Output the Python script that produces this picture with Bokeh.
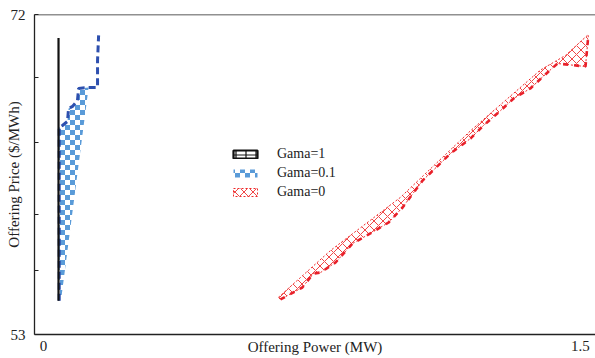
from bokeh.plotting import figure
from bokeh.models import (FixedTicker, Legend, LegendItem, Span,
                          ImageURLTexture, Range1d)
from bokeh.embed import file_html
from bokeh.resources import INLINE

# Offering curves (power in MW, price in $/MWh)
gama1_power = [0.042, 0.042]
gama1_price = [55.0, 70.6]

gama01_power = [0.044, 0.044, 0.053, 0.067, 0.070, 0.081, 0.095, 0.098, 0.126, 0.151, 0.151, 0.154]
gama01_price = [55.0, 65.29, 65.41, 65.65, 66.42, 66.54, 66.90, 67.61, 67.67, 67.67, 69.27, 70.76]
# lower end of the shaded Gama=0.1 region
gama01_base_power = 0.050
gama01_base_price = 55.2

gama0_power = [0.662, 0.723, 0.754, 0.774, 0.816, 0.863, 0.913, 0.964, 1.003, 1.059,
               1.137, 1.193, 1.229, 1.277, 1.313, 1.360, 1.408, 1.436, 1.514, 1.522]
gama0_price = [55.08, 55.79, 56.62, 56.68, 57.28, 58.40, 59.00, 59.65, 60.54, 62.14,
               63.75, 64.64, 65.41, 66.30, 67.01, 67.61, 68.56, 69.09, 68.91, 70.76]
gama0_upper_power = [0.656, 0.802, 0.997, 1.193, 1.388, 1.458, 1.522]
gama0_upper_price = [55.20, 57.99, 61.14, 65.10, 68.70, 69.57, 70.81]

y_ticks = [53, 56.8, 60.1, 64.4, 68.25, 72]
x_ticks = [0, 1.5]

SERIF = "Liberation Serif"

p = figure(width=595, height=358, output_backend="svg", toolbar_location=None,
           x_range=Range1d(-0.0251, 1.542), y_range=Range1d(53, 72),
           min_border=0, min_border_left=34, min_border_bottom=24,
           min_border_top=14, min_border_right=0)
p.outline_line_color = None
p.grid.visible = False
p.background_fill_color = "white"

# axes
p.xaxis.ticker = FixedTicker(ticks=x_ticks)
p.xaxis.major_label_overrides = {0: "0", 1.5: "1.5"}
p.xaxis.major_tick_in = 0
p.xaxis.major_tick_out = 0
p.xaxis.minor_tick_line_color = None
p.xaxis.major_label_standoff = 6
p.xaxis.axis_label = "Offering Power (MW)"
p.xaxis.axis_label_standoff = -15
p.yaxis.ticker = FixedTicker(ticks=y_ticks)
p.yaxis.major_label_overrides = {t: "" for t in y_ticks}
p.yaxis.major_label_overrides.update({53: "53", 72: "72"})
p.yaxis.major_tick_in = 4
p.yaxis.major_tick_out = 0
p.yaxis.minor_tick_line_color = None
p.yaxis.major_label_standoff = 9
p.yaxis.axis_label = "Offering Price ($/MWh)"
p.yaxis.axis_label_standoff = -14
for ax in (p.xaxis[0], p.yaxis[0]):
    ax.axis_line_color = "#222222"
    ax.axis_line_width = 1.3
    ax.major_tick_line_color = "#222222"
    ax.major_label_text_font = SERIF
    ax.major_label_text_font_size = "15px"
    ax.major_label_text_color = "#222222"
    ax.axis_label_text_font = SERIF
    ax.axis_label_text_font_size = "15px"
    ax.axis_label_text_font_style = "normal"
    ax.axis_label_text_color = "#222222"

# top border of the frame
p.add_layout(Span(location=72, dimension="width", line_color="#222222", line_width=1.3))

# checkerboard tile for the Gama=0.1 region
checker_tile = ("data:image/svg+xml;utf8,<svg xmlns='http://www.w3.org/2000/svg' width='10' height='10'>"
                "<rect width='5' height='5' fill='%235a9bd8'/>"
                "<rect x='5' y='5' width='5' height='5' fill='%235a9bd8'/></svg>")
checker = ImageURLTexture(url=checker_tile)

# Gama=0.1 shaded region and curve
fill_x = gama01_power[:9] + [gama01_base_power]
fill_y = gama01_price[:9] + [gama01_base_price]
r01 = p.patch(fill_x, fill_y, fill_color="white", line_color=None,
              hatch_pattern="checker", hatch_extra={"checker": checker},
              hatch_scale=10)
r01_line = p.line(gama01_power, gama01_price, line_color="#2d4fae", line_width=3,
                  line_dash="7 4")

# Gama=1 curve
r1 = p.patch(gama1_power, gama1_price, fill_color="white", line_color="#111111",
             line_width=2.2, hatch_pattern="cross", hatch_color="#111111",
             hatch_scale=10, hatch_weight=1.2)

# Gama=0 band and curve
band_x = gama0_upper_power + gama0_power[::-1]
band_y = gama0_upper_price + gama0_price[::-1]
r0 = p.patch(band_x, band_y, fill_color=None, line_color="#ee2a2a", line_width=1,
             line_dash="2 2", hatch_pattern="diagonal_cross", hatch_color="#ee3030",
             hatch_scale=9, hatch_weight=0.9)
p.line(gama0_power, gama0_price, line_color="#e8202a", line_width=2.6, line_dash="5 6")

legend = Legend(items=[LegendItem(label="Gama=1", renderers=[r1]),
                       LegendItem(label="Gama=0.1", renderers=[r01]),
                       LegendItem(label="Gama=0", renderers=[r0])],
                location=(196, 134), orientation="vertical",
                glyph_width=30, glyph_height=10, label_standoff=17, spacing=3,
                padding=0, margin=0, border_line_color=None,
                background_fill_alpha=0,
                label_text_font=SERIF, label_text_font_size="14px",
                label_text_color="#222222")
p.add_layout(legend, "center")

open("out.html", "w").write(file_html(p, INLINE))
